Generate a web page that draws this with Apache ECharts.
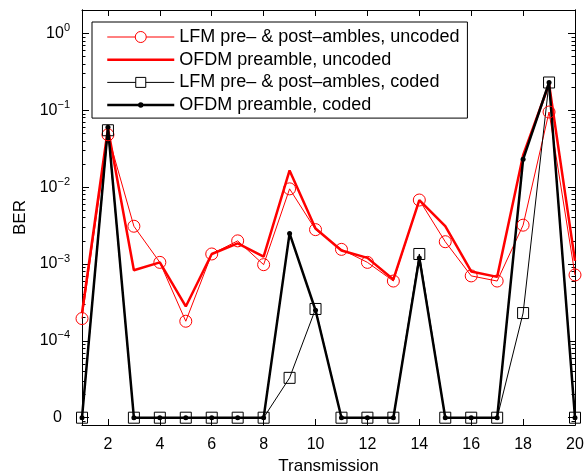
<!DOCTYPE html>
<html>
<head>
<meta charset="utf-8">
<script src="https://cdn.jsdelivr.net/npm/echarts@6/dist/echarts.min.js"></script>
<style>
html,body{margin:0;padding:0;background:#fff;}
#c{width:585px;height:472px;}
</style>
</head>
<body>
<div id="c"></div>
<script>
// ---- data ----
const transmissions = [1,2,3,4,5,6,7,8,9,10,11,12,13,14,15,16,17,18,19,20];
const lfmUncoded  = [1.95e-4, 0.048, 3.1e-3, 1.05e-3, 1.8e-4, 1.35e-3, 2.0e-3, 9.8e-4, 9.5e-3, 2.8e-3, 1.55e-3, 1.05e-3, 6.0e-4, 6.8e-3, 1.95e-3, 7.0e-4, 6.0e-4, 3.2e-3, 0.095, 7.2e-4];
const ofdmUncoded = [2.3e-4, 0.058, 8.3e-4, 1.05e-3, 2.8e-4, 1.35e-3, 1.85e-3, 1.25e-3, 0.0165, 2.9e-3, 1.5e-3, 1.2e-3, 6.3e-4, 6.8e-3, 3.1e-3, 8.0e-4, 6.8e-4, 0.026, 0.22, 1.1e-3];
const lfmCoded    = [0, 0.055, 0, 0, 0, 0, 0, 0, 3.3e-5, 2.6e-4, 0, 0, 0, 1.35e-3, 0, 0, 0, 2.3e-4, 0.23, 0];
const ofdmCoded   = [0, 0.06, 0, 0, 0, 0, 0, 0, 2.5e-3, 2.5e-4, 0, 0, 0, 1.2e-3, 0, 0, 0, 0.023, 0.23, 0];
const seriesNames = ['LFM pre\u2013 & post\u2013ambles, uncoded', 'OFDM preamble, uncoded', 'LFM pre\u2013 & post\u2013ambles, coded', 'OFDM preamble, coded'];
const xTickLabels = [2,4,6,8,10,12,14,16,18,20];
const yDecades = [-5,-4,-3,-2,-1,0]; // -5 position is shown as "0"
const ZERO_LEVEL = 1e-5;

// ---- helpers ----
const FONT = 'Liberation Sans, Arial, Helvetica, sans-serif';
const toY = v => Math.log10(v > 0 ? v : ZERO_LEVEL);
const pts = arr => transmissions.map((t, i) => [t, toY(arr[i])]);
const Y_MIN = -5.095, Y_MAX = 0.305;
const minorY = [];
for (let d = -6; d <= 0; d++) for (let k = 2; k <= 9; k++) {
  const v = d + Math.log10(k);
  if (v > Y_MIN && v < Y_MAX) minorY.push(v);
}

// legend icons (line with marker in the middle)
const ICON_CIRCLE = 'path://M0,7L28,7M39,7L67,7M28,7a5.5,5.5 0 1,0 11,0a5.5,5.5 0 1,0 -11,0Z';
const ICON_SQUARE = 'path://M0,7L28.5,7M38.5,7L67,7M28.5,2h10v10h-10Z';
const ICON_DOT    = 'path://M0,7L67,7M32,7a1.5,1.5 0 1,0 3,0a1.5,1.5 0 1,0 -3,0Z';

const chart = echarts.init(document.getElementById('c'), null, {renderer: 'canvas'});
const yBase = {
  type: 'value', min: Y_MIN, max: Y_MAX, splitLine: {show: false},
  axisLine: {show: true, lineStyle: {color: '#000', width: 1}}
};
const option = {
  animation: false,
  backgroundColor: '#fff',
  textStyle: {fontFamily: FONT},
  grid: {left: 82, top: 10, width: 493, height: 415, containLabel: false, outerBoundsMode: 'none'},
  legend: {
    orient: 'vertical', left: 92, top: 22,
    padding: [6, 8, 4, 14], itemGap: 4.7,
    itemWidth: 67, itemHeight: 14, symbolKeepAspect: true,
    borderColor: '#000', borderWidth: 1, backgroundColor: '#fff',
    textStyle: {fontFamily: FONT, fontSize: 18, color: '#000'},
    data: [
      {name: seriesNames[0], icon: ICON_CIRCLE, itemStyle: {color: '#fff', borderColor: '#ff0000', borderWidth: 1}},
      {name: seriesNames[1], itemStyle: {color: 'rgba(0,0,0,0)', borderWidth: 0}, lineStyle: {color: '#ff0000', width: 2.5}},
      {name: seriesNames[2], icon: ICON_SQUARE, itemStyle: {color: '#fff', borderColor: '#000', borderWidth: 1}},
      {name: seriesNames[3], icon: ICON_DOT, itemStyle: {color: '#000', borderColor: '#000', borderWidth: 2.5}}
    ]
  },
  xAxis: [
    {type: 'value', min: 1, max: 20, position: 'bottom', splitLine: {show: false},
     axisLine: {show: true, onZero: false, lineStyle: {color: '#000'}},
     axisTick: {show: true, inside: true, length: 6, customValues: xTickLabels, lineStyle: {color: '#000'}},
     axisLabel: {customValues: xTickLabels, color: '#000', fontSize: 16, fontFamily: FONT, margin: 12},
     name: 'Transmission', nameLocation: 'middle', nameGap: 31,
     nameTextStyle: {color: '#000', fontSize: 17, fontFamily: FONT}},
    {type: 'value', min: 1, max: 20, position: 'top', splitLine: {show: false},
     axisLine: {show: true, onZero: false, lineStyle: {color: '#000'}},
     axisTick: {show: true, inside: true, length: 6, customValues: xTickLabels, lineStyle: {color: '#000'}},
     axisLabel: {show: false}}
  ],
  yAxis: [
    Object.assign({}, yBase, {
      position: 'left',
      axisTick: {show: true, inside: true, length: 7, customValues: yDecades, lineStyle: {color: '#000'}},
      axisLabel: {
        customValues: yDecades, margin: 12, color: '#000', fontFamily: FONT,
        formatter: v => {
          const n = Math.round(v);
          if (n === -5) return '{z|0}';
          return '{b|10}{s|' + (n < 0 ? '\u2212' + (-n) : n) + '}';
        },
        rich: {
          b: {fontSize: 16, fontFamily: FONT, color: '#000'},
          s: {fontSize: 11, fontFamily: FONT, color: '#000', padding: [0, 0, 11, 0]},
          z: {fontSize: 16, fontFamily: FONT, color: '#000', padding: [0, 8, 0, 0]}
        }
      },
      name: 'BER', nameLocation: 'middle', nameGap: 53, nameRotate: 90,
      nameTextStyle: {color: '#000', fontSize: 17, fontFamily: FONT}
    }),
    Object.assign({}, yBase, {
      position: 'left',
      axisTick: {show: true, inside: true, length: 3.5, customValues: minorY, lineStyle: {color: '#000'}},
      axisLabel: {show: false}
    }),
    Object.assign({}, yBase, {
      position: 'right',
      axisTick: {show: true, inside: true, length: 7, customValues: yDecades, lineStyle: {color: '#000'}},
      axisLabel: {show: false}
    }),
    Object.assign({}, yBase, {
      position: 'right',
      axisTick: {show: true, inside: true, length: 3.5, customValues: minorY, lineStyle: {color: '#000'}},
      axisLabel: {show: false}
    })
  ],
  series: [
    {name: seriesNames[0], type: 'line', data: pts(lfmUncoded),
     symbol: 'circle', symbolSize: 12,
     itemStyle: {color: 'rgba(0,0,0,0)', borderColor: '#ff0000', borderWidth: 1},
     lineStyle: {color: '#ff0000', width: 1}},
    {name: seriesNames[1], type: 'line', data: pts(ofdmUncoded),
     symbol: 'none', itemStyle: {color: '#ff0000'},
     lineStyle: {color: '#ff0000', width: 2.5}},
    {name: seriesNames[2], type: 'line', data: pts(lfmCoded),
     symbol: 'rect', symbolSize: 11,
     itemStyle: {color: 'rgba(0,0,0,0)', borderColor: '#000', borderWidth: 1},
     lineStyle: {color: '#000', width: 1}},
    {name: seriesNames[3], type: 'line', data: pts(ofdmCoded),
     symbol: 'circle', symbolSize: 5,
     itemStyle: {color: '#000'},
     lineStyle: {color: '#000', width: 2.5}}
  ]
};
chart.setOption(option);
</script>
</body>
</html>
